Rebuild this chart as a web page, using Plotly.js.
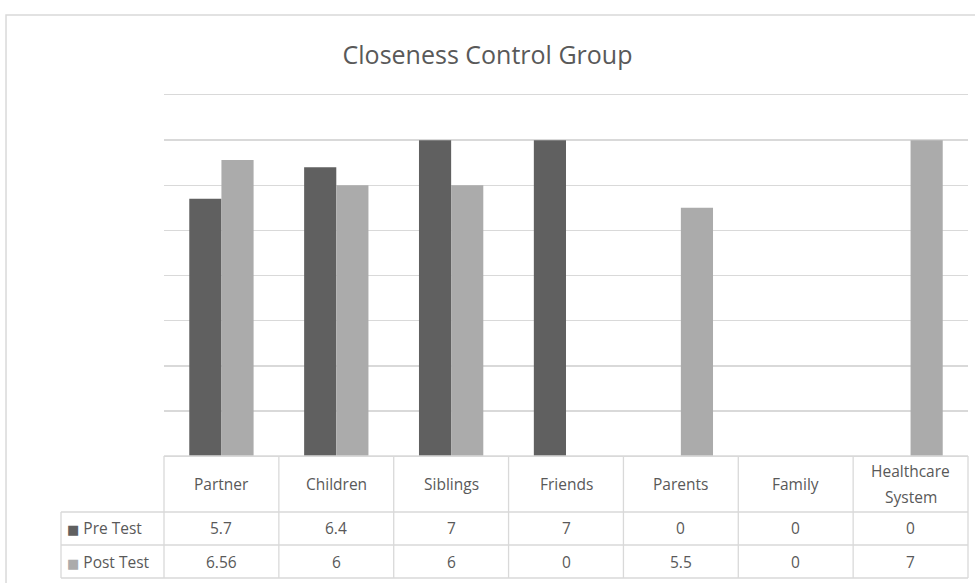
<!DOCTYPE html>
<html>
<head>
<meta charset="utf-8">
<script src="https://cdn.plot.ly/plotly-3.0.1.min.js"></script>
<style>html,body{margin:0;padding:0;background:#fff;}</style>
</head>
<body>
<div id="chart" style="width:975px;height:583px;"></div>
<script>
const categories = ["Partner", "Children", "Siblings", "Friends", "Parents", "Family", "Healthcare System"];
const headerLabels = ["Partner", "Children", "Siblings", "Friends", "Parents", "Family", "Healthcare<br>System"];
const seriesNames = ["Pre Test", "Post Test"];
const preTest = [5.7, 6.4, 7, 7, 0, 0, 0];
const postTest = [6.56, 6, 6, 0, 5.5, 0, 7];
const preTestLabels = ["5.7", "6.4", "7", "7", "0", "0", "0"];
const postTestLabels = ["6.56", "6", "6", "0", "5.5", "0", "7"];

const PRE_COLOR = "#606060";
const POST_COLOR = "#ababab";
const GRID = "#d9d9d9";
const TEXT = "#595959";
const FONT = "Open Sans, DejaVu Sans, sans-serif";

// table geometry in paper fractions (plot area is the paper)
const ROW_Y = [0, -0.1551, -0.2465, -0.3380];
const LEFT_X = -0.1281;

const traces = [
  {type: "bar", name: seriesNames[0], x: categories, y: preTest,
   marker: {color: PRE_COLOR, line: {width: 0}}, showlegend: false},
  {type: "bar", name: seriesNames[1], x: categories, y: postTest,
   marker: {color: POST_COLOR, line: {width: 0}}, showlegend: false}
];

const lineStyle = {color: GRID, width: 1.3};
const shapes = [
  // outer chart frame
  {type: "rect", xref: "paper", yref: "paper", x0: -0.1965, x1: 1.2, y0: -0.37, y1: 1.2216,
   line: {color: GRID, width: 1.5}, fillcolor: "rgba(0,0,0,0)", layer: "below"},
  // table horizontal lines
  {type: "line", xref: "paper", yref: "paper", x0: 0, x1: 1, y0: ROW_Y[0], y1: ROW_Y[0], line: lineStyle},
  {type: "line", xref: "paper", yref: "paper", x0: LEFT_X, x1: 1, y0: ROW_Y[1], y1: ROW_Y[1], line: lineStyle},
  {type: "line", xref: "paper", yref: "paper", x0: LEFT_X, x1: 1, y0: ROW_Y[2], y1: ROW_Y[2], line: lineStyle},
  {type: "line", xref: "paper", yref: "paper", x0: LEFT_X, x1: 1, y0: ROW_Y[3], y1: ROW_Y[3], line: lineStyle},
  // table outer verticals
  {type: "line", xref: "paper", yref: "paper", x0: LEFT_X, x1: LEFT_X, y0: ROW_Y[1], y1: ROW_Y[3], line: lineStyle},
  {type: "line", xref: "paper", yref: "paper", x0: 0, x1: 0, y0: ROW_Y[0], y1: ROW_Y[3], line: lineStyle},
  {type: "line", xref: "paper", yref: "paper", x0: 1, x1: 1, y0: ROW_Y[0], y1: ROW_Y[3], line: lineStyle}
];
// interior column boundaries between categories
for (let i = 0; i < categories.length - 1; i++) {
  shapes.push({type: "line", xref: "x", yref: "paper", x0: i + 0.5, x1: i + 0.5,
               y0: ROW_Y[0], y1: ROW_Y[3], line: lineStyle});
}

const annFont = {family: FONT, size: 15.5, color: TEXT};
const annotations = [];
const headerMid = (ROW_Y[0] + ROW_Y[1]) / 2;
categories.forEach((c, i) => {
  const lines = headerLabels[i].split("<br>");
  lines.forEach((ln, j) => {
    const off = (j - (lines.length - 1) / 2) * 0.072;
    annotations.push({xref: "x", yref: "paper", x: c, y: headerMid - off, text: ln,
                      showarrow: false, xanchor: "center", yanchor: "middle", font: annFont});
  });
  annotations.push({xref: "x", yref: "paper", x: c, y: (ROW_Y[1] + ROW_Y[2]) / 2, text: preTestLabels[i],
                    showarrow: false, xanchor: "center", yanchor: "middle", font: annFont});
  annotations.push({xref: "x", yref: "paper", x: c, y: (ROW_Y[2] + ROW_Y[3]) / 2, text: postTestLabels[i],
                    showarrow: false, xanchor: "center", yanchor: "middle", font: annFont});
});
[PRE_COLOR, POST_COLOR].forEach((col, k) => {
  annotations.push({xref: "paper", yref: "paper", x: LEFT_X + 0.005, y: (ROW_Y[k + 1] + ROW_Y[k + 2]) / 2,
                    text: "<span style=\"color:" + col + ";font-size:13px\">■</span> " + seriesNames[k],
                    showarrow: false, xanchor: "left", yanchor: "middle", font: annFont});
});

const layout = {
  width: 975, height: 583,
  margin: {l: 164, r: 7, t: 95, b: 127},
  paper_bgcolor: "white", plot_bgcolor: "white",
  title: {text: "Closeness Control Group", x: 0.5, xref: "container", xanchor: "center",
          y: 0.906, yref: "container", yanchor: "middle",
          font: {family: "Open Sans, sans-serif", size: 25, color: TEXT}},
  barmode: "group", bargap: 0.44, bargroupgap: 0,
  xaxis: {showticklabels: false, ticks: "", showgrid: false, zeroline: false,
          showline: true, mirror: true, linecolor: GRID, linewidth: 1.3, fixedrange: true},
  yaxis: {range: [0, 8], dtick: 1, showticklabels: false, ticks: "",
          showgrid: true, gridcolor: GRID, gridwidth: 1.5, zeroline: false, showline: false, fixedrange: true},
  shapes: shapes,
  annotations: annotations
};

Plotly.newPlot("chart", traces, layout, {displayModeBar: false, staticPlot: true});
</script>
</body>
</html>
